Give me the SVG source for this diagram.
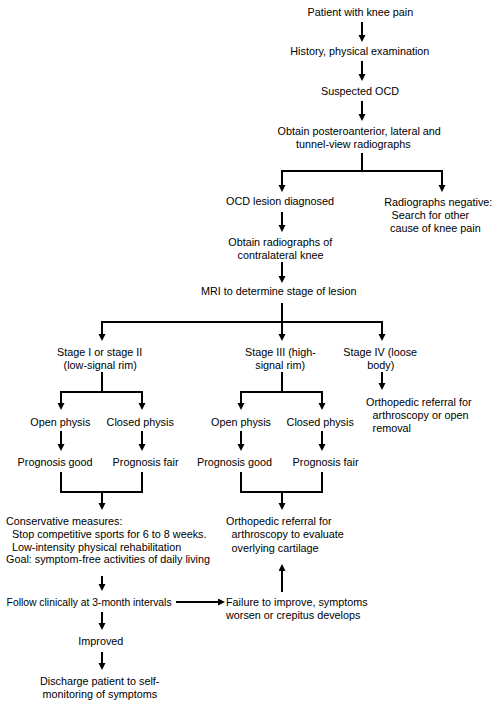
<svg xmlns="http://www.w3.org/2000/svg" width="503" height="703" viewBox="0 0 503 703">
<style>
text{font-family:"Liberation Sans",Arial,sans-serif;font-size:10.8px;fill:#000}
.c line,.c path{stroke:#000;stroke-width:2;fill:none}
.a{marker-end:url(#ah)}
</style>
<defs>
<marker id="ah" markerUnits="userSpaceOnUse" markerWidth="8" markerHeight="8" refX="3" refY="3.5" orient="auto">
<path d="M0,0 L7,3.5 L0,7 z" fill="#000"/>
</marker>
</defs>
<rect width="503" height="703" fill="#fff"/>
<g id="connectors" class="c">
<line class="a" x1="362" y1="22" x2="362" y2="38"/>
<line class="a" x1="362" y1="61" x2="362" y2="77"/>
<line class="a" x1="362" y1="101" x2="362" y2="117"/>
<path d="M362,153 V171 M281,171 H443"/>
<line class="a" x1="282" y1="171" x2="282" y2="188"/>
<line class="a" x1="442" y1="171" x2="442" y2="188"/>
<line class="a" x1="282" y1="212" x2="282" y2="228"/>
<line class="a" x1="282" y1="262" x2="282" y2="279"/>
<path d="M282,303 V322 M101,322 H383"/>
<line class="a" x1="102" y1="322" x2="102" y2="337"/>
<line class="a" x1="282" y1="322" x2="282" y2="337"/>
<line class="a" x1="382" y1="322" x2="382" y2="337"/>
<path d="M102,372 V392 M60,392 H143"/>
<path d="M282,372 V392 M240,392 H323"/>
<line class="a" x1="382" y1="372" x2="382" y2="386"/>
<line class="a" x1="61" y1="392" x2="61" y2="406"/>
<line class="a" x1="142" y1="392" x2="142" y2="406"/>
<line class="a" x1="241" y1="392" x2="241" y2="406"/>
<line class="a" x1="322" y1="392" x2="322" y2="406"/>
<line class="a" x1="61" y1="431" x2="61" y2="447"/>
<line class="a" x1="142" y1="431" x2="142" y2="447"/>
<line class="a" x1="241" y1="431" x2="241" y2="447"/>
<line class="a" x1="322" y1="431" x2="322" y2="447"/>
<path d="M61,472 V492 H142 V472"/>
<path d="M241,472 V492 H322 V472"/>
<line class="a" x1="102" y1="492" x2="102" y2="506"/>
<line class="a" x1="282" y1="492" x2="282" y2="506"/>
<line class="a" x1="102" y1="576" x2="102" y2="587"/>
<line class="a" x1="176" y1="602" x2="221" y2="602"/>
<line class="a" x1="102" y1="612" x2="102" y2="626"/>
<line class="a" x1="102" y1="652" x2="102" y2="666"/>
<line class="a" x1="282" y1="592" x2="282" y2="568"/>
</g>
<g id="n1"><text x="307.6" y="16">Patient with knee pain</text></g>
<g id="n2"><text x="290.3" y="55">History, physical examination</text></g>
<g id="n3"><text x="321" y="95">Suspected OCD</text></g>
<g id="n4"><text x="277.6" y="135">Obtain posteroanterior, lateral and</text><text x="296" y="148">tunnel-view radiographs</text></g>
<g id="n5"><text x="226" y="205">OCD lesion diagnosed</text></g>
<g id="n6"><text x="384.3" y="206">Radiographs negative:</text><text x="391.6" y="218.5">Search for other</text><text x="390" y="231.5">cause of knee pain</text></g>
<g id="n7"><text x="228.3" y="246">Obtain radiographs of</text><text x="237.6" y="258.5">contralateral knee</text></g>
<g id="n8"><text x="201" y="295">MRI to determine stage of lesion</text></g>
<g id="n9"><text x="57" y="356">Stage I or stage II</text><text x="63.6" y="369">(low-signal rim)</text></g>
<g id="n10"><text x="245" y="356">Stage III (high-</text><text x="255.3" y="369">signal rim)</text></g>
<g id="n11"><text x="343.3" y="356">Stage IV (loose</text><text x="367.3" y="369">body)</text></g>
<g id="n12"><text x="366" y="405.5">Orthopedic referral for</text><text x="372.6" y="418.5">arthroscopy or open</text><text x="372.6" y="431.5">removal</text></g>
<g id="n13"><text x="30.3" y="426">Open physis</text></g>
<g id="n14"><text x="106.6" y="426">Closed physis</text></g>
<g id="n15"><text x="211" y="426">Open physis</text></g>
<g id="n16"><text x="286.6" y="426">Closed physis</text></g>
<g id="n17"><text x="17.6" y="466">Prognosis good</text></g>
<g id="n18"><text x="112.6" y="466">Prognosis fair</text></g>
<g id="n19"><text x="197" y="466">Prognosis good</text></g>
<g id="n20"><text x="292.6" y="466">Prognosis fair</text></g>
<g id="n21"><text x="6" y="525">Conservative measures:</text><text x="12" y="538">Stop competitive sports for 6 to 8 weeks.</text><text x="12" y="550.5">Low-intensity physical rehabilitation</text><text x="6" y="563">Goal: symptom-free activities of daily living</text></g>
<g id="n22"><text x="226" y="525">Orthopedic referral for</text><text x="231.6" y="538">arthroscopy to evaluate</text><text x="231.6" y="551.5">overlying cartilage</text></g>
<g id="n23"><text x="6.6" y="605.5" textLength="165" lengthAdjust="spacingAndGlyphs">Follow clinically at 3-month intervals</text></g>
<g id="n24"><text x="226" y="605.5">Failure to improve, symptoms</text><text x="226" y="618.5">worsen or crepitus develops</text></g>
<g id="n25"><text x="78.3" y="645">Improved</text></g>
<g id="n26"><text x="40" y="685">Discharge patient to self-</text><text x="42.6" y="698">monitoring of symptoms</text></g>
</svg>
